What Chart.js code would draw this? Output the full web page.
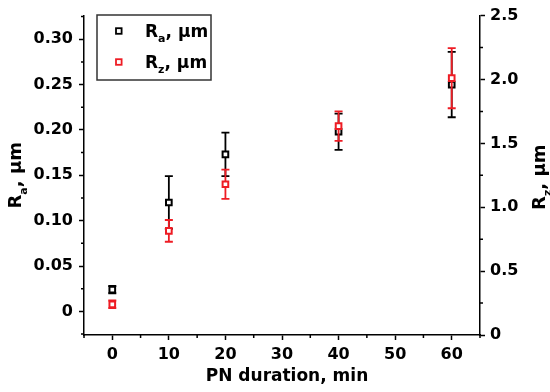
<!DOCTYPE html>
<html><head><meta charset="utf-8">
<script src="https://cdn.jsdelivr.net/npm/chart.js@4"></script>
<style>html,body{margin:0;padding:0;background:#fff}</style>
</head><body>
<canvas id="c" width="550" height="392"></canvas>
<script>
// ---- data ----
const durations = [0, 10, 20, 40, 60];
const raValues = [0.024, 0.120, 0.173, 0.198, 0.250];
const raErrors = [0.004, 0.029, 0.024, 0.020, 0.036];
const rzValues = [0.24, 0.815, 1.18, 1.635, 2.01];
const rzErrors = [0.03, 0.085, 0.115, 0.115, 0.235];

const xTicks = [0, 10, 20, 30, 40, 50, 60];
const xMinorTicks = [-5, 5, 15, 25, 35, 45, 55, 65];
const raTicks = [0, 0.05, 0.10, 0.15, 0.20, 0.25, 0.30];
const raTickLabels = ['0', '0.05', '0.10', '0.15', '0.20', '0.25', '0.30'];
const raMinorTicks = [-0.025, 0.025, 0.075, 0.125, 0.175, 0.225, 0.275, 0.325];
const rzTicks = [0, 0.5, 1.0, 1.5, 2.0, 2.5];
const rzTickLabels = ['0', '0.5', '1.0', '1.5', '2.0', '2.5'];
const rzMinorTicks = [0.25, 0.75, 1.25, 1.75, 2.25];

const RED = '#ee1c24';
const BLACK = '#000000';
const FONT = 'DejaVu Sans';
const tickFont = {family: FONT, size: 16, weight: 'bold'};

function richText(ctx, parts, cx, cy) {
  let total = 0;
  parts.forEach(p => { ctx.font = 'bold ' + p.s + 'px "' + FONT + '"'; p.w = ctx.measureText(p.t).width; total += p.w; });
  let x = cx - total / 2;
  const base = cy + parts[0].s * 0.36;
  ctx.textBaseline = 'alphabetic';
  ctx.textAlign = 'left';
  parts.forEach(p => { ctx.font = 'bold ' + p.s + 'px "' + FONT + '"'; ctx.fillText(p.t, x, base + (p.dy || 0)); x += p.w; });
}
function label(sub, size) {
  return [{t: 'R', s: size}, {t: sub, s: Math.round(size * 0.62), dy: size * 0.28}, {t: ', \u03bcm', s: size}];
}

const errorBars = {
  id: 'errorBars',
  beforeDatasetDraw(chart, args) {
    const ds = chart.data.datasets[args.index];
    const ys = chart.scales[ds.yAxisID];
    const xs = chart.scales.x;
    const ctx = chart.ctx;
    ctx.save();
    ctx.strokeStyle = ds.borderColor;
    ctx.lineWidth = 1.8;
    ds.errors.forEach((e, i) => {
      const px = xs.getPixelForValue(ds.data[i].x);
      const top = ys.getPixelForValue(ds.data[i].y + e);
      const bot = ys.getPixelForValue(ds.data[i].y - e);
      ctx.beginPath();
      ctx.moveTo(px, top); ctx.lineTo(px, bot);
      ctx.moveTo(px - 4, top); ctx.lineTo(px + 4, top);
      ctx.moveTo(px - 4, bot); ctx.lineTo(px + 4, bot);
      ctx.stroke();
    });
    ctx.restore();
  }
};

const decorations = {
  id: 'decorations',
  afterDraw(chart) {
    const ctx = chart.ctx;
    const {x, y, y2} = chart.scales;
    const area = chart.chartArea;
    ctx.save();
    ctx.strokeStyle = '#000';
    ctx.lineWidth = 1.5;
    ctx.beginPath();
    xMinorTicks.forEach(v => { const p = x.getPixelForValue(v); ctx.moveTo(p, area.bottom); ctx.lineTo(p, area.bottom + 3); });
    raMinorTicks.forEach(v => { const p = y.getPixelForValue(v); ctx.moveTo(area.left, p); ctx.lineTo(area.left - 3, p); });
    rzMinorTicks.forEach(v => { const p = y2.getPixelForValue(v); ctx.moveTo(area.right, p); ctx.lineTo(area.right + 3, p); });
    ctx.stroke();

    ctx.fillStyle = '#000';
    // x title
    ctx.font = 'bold 17px "' + FONT + '"';
    ctx.textAlign = 'center';
    ctx.textBaseline = 'alphabetic';
    ctx.fillText('PN duration, min', (area.left + area.right) / 2 + 5, 381);

    // left title
    ctx.save();
    ctx.translate(15, (area.top + area.bottom) / 2);
    ctx.rotate(-Math.PI / 2);
    richText(ctx, label('a', 18), 0, 0);
    ctx.restore();
    // right title
    ctx.save();
    ctx.translate(539, (area.top + area.bottom) / 2 + 2);
    ctx.rotate(-Math.PI / 2);
    richText(ctx, label('z', 18), 0, 0);
    ctx.restore();

    // legend
    ctx.lineWidth = 1.5;
    ctx.strokeStyle = '#333';
    ctx.strokeRect(97, 15, 114, 65);
    const items = [{c: BLACK, sub: 'a', y: 31}, {c: RED, sub: 'z', y: 62}];
    items.forEach(it => {
      ctx.strokeStyle = it.c;
      ctx.lineWidth = 1.8;
      ctx.fillStyle = '#fff';
      ctx.fillRect(116, it.y - 2.8, 5.6, 5.6);
      ctx.strokeRect(116, it.y - 2.8, 5.6, 5.6);
      ctx.fillStyle = '#000';
      const parts = label(it.sub, 17);
      let tw = 0;
      parts.forEach(p => { ctx.font = 'bold ' + p.s + 'px "' + FONT + '"'; tw += ctx.measureText(p.t).width; });
      richText(ctx, parts, 145 + tw / 2, it.y);
    });
    ctx.restore();
  }
};

function pts(xs, ys) { return xs.map((v, i) => ({x: v, y: ys[i]})); }

const commonGrid = {drawOnChartArea: false, drawTicks: true, tickLength: 5, tickWidth: 1.5, tickColor: '#000'};
const commonBorder = {display: true, color: '#000', width: 1.5};

new Chart(document.getElementById('c'), {
  type: 'scatter',
  data: {
    datasets: [
      {label: 'Ra', data: pts(durations, raValues), errors: raErrors, yAxisID: 'y', order: 1,
       borderColor: BLACK, backgroundColor: '#fff', pointStyle: 'rect', pointRadius: 4, pointBorderWidth: 2, showLine: false},
      {label: 'Rz', data: pts(durations, rzValues), errors: rzErrors, yAxisID: 'y2', order: 0,
       borderColor: RED, backgroundColor: '#fff', pointStyle: 'rect', pointRadius: 4, pointBorderWidth: 2, showLine: false}
    ]
  },
  options: {
    responsive: false,
    animation: false,
    devicePixelRatio: 1,
    layout: {padding: {top: 15, left: 0, right: 0, bottom: 0}},
    plugins: {legend: {display: false}, tooltip: {enabled: false}},
    scales: {
      x: {
        type: 'linear', position: 'bottom', min: -5, max: 65,
        afterBuildTicks: s => { s.ticks = xTicks.map(v => ({value: v})); },
        afterFit: s => { s.height = 57; },
        ticks: {font: tickFont, color: '#000', padding: 5, maxRotation: 0, autoSkip: false, callback: (v) => String(v)},
        grid: commonGrid, border: commonBorder
      },
      y: {
        type: 'linear', position: 'left', min: -0.026, max: 0.326,
        afterBuildTicks: s => { s.ticks = raTicks.map(v => ({value: v})); },
        afterFit: s => { s.width = 84; },
        ticks: {font: tickFont, color: '#000', padding: 6, autoSkip: false, callback: (v, i) => raTickLabels[i]},
        grid: commonGrid, border: commonBorder
      },
      y2: {
        type: 'linear', position: 'right', min: 0, max: 2.5,
        afterBuildTicks: s => { s.ticks = rzTicks.map(v => ({value: v})); },
        afterFit: s => { s.width = 70; },
        ticks: {font: tickFont, color: '#000', padding: 5, autoSkip: false, callback: (v, i) => rzTickLabels[i]},
        grid: commonGrid, border: commonBorder
      }
    }
  },
  plugins: [errorBars, decorations]
});
</script>
</body></html>
